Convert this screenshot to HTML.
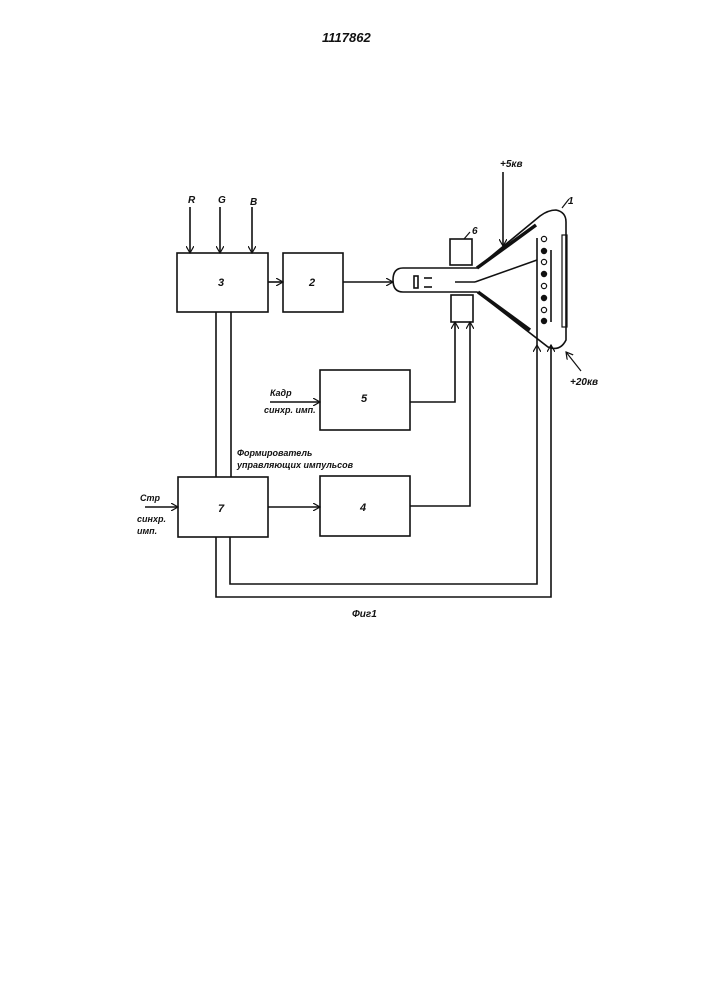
<!DOCTYPE html>
<html><head><meta charset="utf-8"><style>body{margin:0;background:#fff}svg{display:block}text{font-family:"Liberation Sans",sans-serif;font-style:italic;font-weight:bold;fill:#111}</style></head><body>
<svg width="707" height="1000" viewBox="0 0 707 1000" xmlns="http://www.w3.org/2000/svg">
<defs><marker id="a" markerWidth="8" markerHeight="8" refX="7" refY="4" orient="auto" markerUnits="userSpaceOnUse"><path d="M0,0 L7,4 L0,8" fill="none" stroke="#111" stroke-width="1.2"/></marker></defs>
<g stroke="#111" stroke-width="1.6" fill="none">
<text x="322" y="42" font-size="13" stroke="none" font-style="normal">1117862</text>
<rect x="177" y="253" width="91" height="59"/>
<rect x="283" y="253" width="60" height="59"/>
<rect x="320" y="370" width="90" height="60"/>
<rect x="178" y="477" width="90" height="60"/>
<rect x="320" y="476" width="90" height="60"/>
<rect x="450" y="239" width="22" height="26"/>
<rect x="451" y="295" width="22" height="27"/>
<line x1="190" y1="207" x2="190" y2="253" marker-end="url(#a)"/>
<line x1="220" y1="207" x2="220" y2="253" marker-end="url(#a)"/>
<line x1="252" y1="207" x2="252" y2="253" marker-end="url(#a)"/>
<line x1="268" y1="282" x2="283" y2="282" marker-end="url(#a)"/>
<line x1="343" y1="282" x2="393" y2="282" marker-end="url(#a)"/>
<line x1="216" y1="312" x2="216" y2="477"/><line x1="231" y1="312" x2="231" y2="477"/>
<line x1="268" y1="507" x2="320" y2="507" marker-end="url(#a)"/>
<line x1="145" y1="507" x2="178" y2="507" marker-end="url(#a)"/>
<line x1="270" y1="402" x2="320" y2="402" marker-end="url(#a)"/>
<polyline points="410,402 455,402 455,322" marker-end="url(#a)"/>
<polyline points="410,506 470,506 470,322" marker-end="url(#a)"/>
<polyline points="230,537 230,584 537,584 537,345" marker-end="url(#a)"/>
<polyline points="216,537 216,597 551,597 551,345" marker-end="url(#a)"/>
<path d="M477,268 L403,268 Q393,268 393,280 Q393,292 403,292 L477,292 L548,347 Q560,352 566,340 L566,222 Q566,212 556,210 Q548,210 540,216 Z"/>
<line x1="477" y1="268" x2="536" y2="225" stroke-width="3.5"/>
<line x1="478" y1="292" x2="530" y2="330" stroke-width="3.5"/>
<line x1="503" y1="172" x2="503" y2="246" marker-end="url(#a)"/>
<line x1="455" y1="282" x2="475" y2="282"/>
<line x1="475" y1="282" x2="537" y2="260"/>
<line x1="537" y1="238" x2="537" y2="345"/>
<line x1="551" y1="250" x2="551" y2="322"/>
<rect x="414" y="276" width="4" height="12"/>
<line x1="424" y1="278" x2="432" y2="278"/><line x1="424" y1="287" x2="432" y2="287"/>
<rect x="562" y="235" width="5" height="92" stroke-width="1.2"/>
<g stroke-width="1.2">
<circle cx="544" cy="239" r="2.6"/><circle cx="544" cy="251" r="2.6" fill="#111"/><circle cx="544" cy="262" r="2.6"/><circle cx="544" cy="274" r="2.6" fill="#111"/><circle cx="544" cy="286" r="2.6"/><circle cx="544" cy="298" r="2.6" fill="#111"/><circle cx="544" cy="310" r="2.6"/><circle cx="544" cy="321" r="2.6" fill="#111"/>
</g>
<line x1="562" y1="208" x2="569" y2="199" stroke-width="1.2"/>
<line x1="464" y1="239" x2="470" y2="232" stroke-width="1.2"/>
<line x1="581" y1="371" x2="566" y2="352" marker-end="url(#a)" stroke-width="1.2"/>
</g>
<text x="188" y="203" font-size="10">R</text>
<text x="218" y="203" font-size="10">G</text>
<text x="250" y="205" font-size="10">B</text>
<text x="218" y="286" font-size="11">3</text>
<text x="309" y="286" font-size="11">2</text>
<text x="361" y="402" font-size="11">5</text>
<text x="218" y="512" font-size="11">7</text>
<text x="360" y="511" font-size="11">4</text>
<text x="500" y="167" font-size="10">+5кв</text>
<text x="568" y="204" font-size="10">1</text>
<text x="472" y="234" font-size="10">6</text>
<text x="570" y="385" font-size="10">+20кв</text>
<text x="270" y="396" font-size="9">Кадр</text>
<text x="264" y="413" font-size="9">синхр. имп.</text>
<text x="237" y="456" font-size="9">Формирователь</text>
<text x="237" y="468" font-size="9">управляющих импульсов</text>
<text x="140" y="501" font-size="9">Стр</text>
<text x="137" y="522" font-size="9">синхр.</text>
<text x="137" y="534" font-size="9">имп.</text>
<text x="352" y="617" font-size="10">Фиг1</text>
</svg>
</body></html>
